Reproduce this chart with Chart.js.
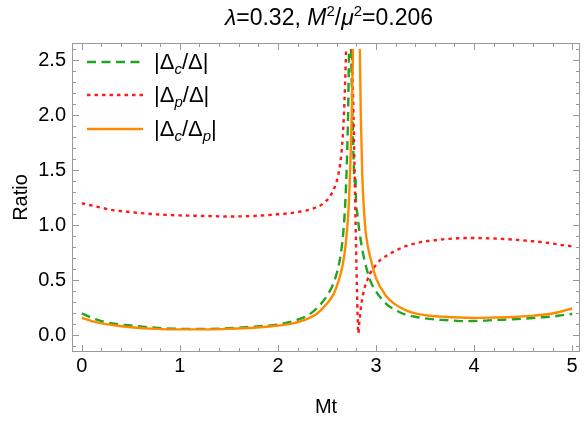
<!DOCTYPE html>
<html><head><meta charset="utf-8">
<script src="https://cdn.jsdelivr.net/npm/chart.js@4.4.0/dist/chart.umd.min.js"></script>
<style>
body{margin:0;background:#fff;}
#wrap{position:relative;width:586px;height:425px;font-family:"Liberation Sans",Arial,sans-serif;color:#000;}
#c{position:absolute;left:0;top:0;}
#title{position:absolute;top:4px;left:72px;width:514px;text-align:center;font-size:23px;line-height:26px;white-space:nowrap;}
#legend{position:absolute;left:86px;top:45px;font-size:22px;}
.row{display:flex;align-items:center;height:33.5px;white-space:nowrap;}
.row svg{margin-right:10px;}
sup{font-size:15px;position:relative;top:-9px;vertical-align:baseline;line-height:0;}
sub{font-size:15px;position:relative;top:5px;vertical-align:baseline;line-height:0;}
</style></head>
<body>
<div id="wrap">
<canvas id="c" width="586" height="425"></canvas>
<div id="title"><i>λ</i>=0.32, <i>M</i><sup>2</sup>/<i>μ</i><sup>2</sup>=0.206</div>
<div id="legend"></div>
</div>
<script>
// ---- data ----
const xTicks = [0, 1, 2, 3, 4, 5];
const yTicks = [0, 0.5, 1, 1.5, 2, 2.5];
const legendLabels = ['|Δ<sub><i>c</i></sub>/Δ|', '|Δ<sub><i>p</i></sub>/Δ|', '|Δ<sub><i>c</i></sub>/Δ<sub><i>p</i></sub>|'];

// |Δc/Δ| (green dashed)
const greenX = [0, 0.1, 0.2, 0.35, 0.5, 0.75, 1.0, 1.25, 1.5, 1.75, 2.0, 2.15, 2.3, 2.4, 2.5, 2.56, 2.61, 2.65, 2.68, 2.7, 2.715, 2.725,
  2.735,
  2.745, 2.76, 2.775, 2.785, 2.79, 2.795, 2.81, 2.83, 2.86, 2.9, 2.95, 3.0, 3.1, 3.2, 3.3, 3.4, 3.5, 3.6, 3.7, 3.8, 3.9, 4.0, 4.1, 4.2, 4.3, 4.4, 4.5, 4.6, 4.7, 4.8, 4.9, 5.0];
const greenY = [0.20, 0.16, 0.13, 0.105, 0.09, 0.07, 0.06, 0.06, 0.065, 0.08, 0.10, 0.13, 0.18, 0.25, 0.36, 0.46, 0.60, 0.80, 1.10, 1.50, 2.00, 2.60,
  null,
  2.60, 2.00, 1.50, 1.38, 1.45, 1.25, 1.10, 0.95, 0.78, 0.62, 0.48, 0.40, 0.29, 0.23, 0.19, 0.17, 0.155, 0.145, 0.14, 0.135, 0.13, 0.132, 0.135, 0.14, 0.143, 0.147, 0.152, 0.158, 0.165, 0.172, 0.185, 0.195];

// |Δp/Δ| (red dotted)
const redX = [0, 0.1, 0.2, 0.3, 0.5, 0.75, 1.0, 1.25, 1.5, 1.75, 2.0, 2.2, 2.35, 2.45, 2.52, 2.58, 2.62, 2.65, 2.67, 2.685, 2.695,
  2.725,
  2.755, 2.775, 2.79, 2.805, 2.82, 2.83, 2.85, 2.88, 2.91, 2.95, 3.0, 3.05, 3.1, 3.2, 3.3, 3.4, 3.5, 3.6, 3.7, 3.8, 3.9, 4.0, 4.2, 4.4, 4.6, 4.8, 4.9, 5.0];
const redY = [1.20, 1.18, 1.16, 1.14, 1.12, 1.10, 1.09, 1.085, 1.08, 1.085, 1.10, 1.12, 1.15, 1.19, 1.25, 1.35, 1.48, 1.68, 1.95, 2.30, 2.60,
  null,
  2.60, 1.80, 1.10, 0.45, 0.02, 0.12, 0.28, 0.42, 0.50, 0.58, 0.64, 0.69, 0.72, 0.77, 0.81, 0.835, 0.855, 0.865, 0.875, 0.88, 0.885, 0.885, 0.88, 0.87, 0.855, 0.835, 0.82, 0.81];

// |Δc/Δp| (orange solid)
const orangeX = [0, 0.1, 0.2, 0.35, 0.5, 0.75, 1.0, 1.25, 1.5, 1.75, 2.0, 2.15, 2.3, 2.4, 2.5, 2.57, 2.62, 2.66, 2.69, 2.72, 2.74, 2.755, 2.765,
  2.8,
  2.835, 2.845, 2.86, 2.88, 2.9, 2.95, 3.0, 3.1, 3.2, 3.3, 3.4, 3.5, 3.6, 3.7, 3.8, 4.0, 4.2, 4.4, 4.6, 4.8, 4.9, 5.0];
const orangeY = [0.16, 0.13, 0.11, 0.09, 0.075, 0.06, 0.055, 0.055, 0.06, 0.07, 0.09, 0.11, 0.15, 0.20, 0.29, 0.38, 0.50, 0.64, 0.82, 1.15, 1.60, 2.10, 2.60,
  null,
  2.60, 2.00, 1.45, 1.10, 0.90, 0.68, 0.52, 0.36, 0.28, 0.23, 0.20, 0.185, 0.175, 0.17, 0.165, 0.16, 0.163, 0.168, 0.18, 0.20, 0.22, 0.245];

// ---- chart ----
const pts = (xs, ys) => xs.map((x, i) => ({x: x, y: ys[i]}));
const styles = [
  {color: '#1fa51f', dash: [9, 5.5]},
  {color: '#ff1a1a', dash: [3.5, 4]},
  {color: '#ff8a00', dash: []}
];

const frame = {
  id: 'frame',
  beforeDatasetsDraw(chart) {
    const {ctx, chartArea: a, scales: {x, y}} = chart;
    ctx.save();
    ctx.strokeStyle = '#9a9a9a';
    ctx.lineWidth = 1;
    ctx.strokeRect(a.left + 0.5, a.top + 0.5, a.right - a.left - 1, a.bottom - a.top - 1);
    ctx.beginPath();
    for (let i = 0; i <= 25; i++) {
      const v = i * 0.2;
      const len = (i % 5 === 0) ? 7 : 4;
      const px = Math.round(x.getPixelForValue(v)) + 0.5;
      ctx.moveTo(px, a.bottom); ctx.lineTo(px, a.bottom - len);
      ctx.moveTo(px, a.top); ctx.lineTo(px, a.top + len);
    }
    for (let i = -1; i <= 26; i++) {
      const v = i * 0.1;
      if (v < y.min || v > y.max) continue;
      const len = ((i % 5 + 5) % 5 === 0) ? 7 : 4;
      const py = Math.round(y.getPixelForValue(v)) + 0.5;
      ctx.moveTo(a.left, py); ctx.lineTo(a.left + len, py);
      ctx.moveTo(a.right, py); ctx.lineTo(a.right - len, py);
    }
    ctx.stroke();
    ctx.restore();
  }
};

const chart = new Chart(document.getElementById('c'), {
  type: 'scatter',
  data: {
    datasets: [
      {label: 'g', data: pts(greenX, greenY), borderColor: styles[0].color, borderDash: styles[0].dash, order: 2},
      {label: 'r', data: pts(redX, redY), borderColor: styles[1].color, borderDash: styles[1].dash, order: 1},
      {label: 'o', data: pts(orangeX, orangeY), borderColor: styles[2].color, borderDash: styles[2].dash, order: 0}
    ].map(d => Object.assign(d, {showLine: true, pointRadius: 0, borderWidth: 2.4, spanGaps: false, cubicInterpolationMode: 'monotone', fill: false}))
  },
  options: {
    responsive: false,
    animation: false,
    events: [],
    layout: {padding: {top: 43, right: 6, left: 0, bottom: 0}},
    plugins: {legend: {display: false}, tooltip: {enabled: false}},
    scales: {
      x: {
        type: 'linear', min: -0.1, max: 5.08,
        afterBuildTicks: s => { s.ticks = xTicks.map(v => ({value: v})); },
        afterFit: s => { s.height = 73; },
        grid: {display: false, drawTicks: false}, border: {display: false},
        ticks: {color: '#000', font: {family: 'Liberation Sans', size: 20}, padding: 2, maxRotation: 0},
        title: {display: true, text: 'Mt', color: '#000', font: {family: 'Liberation Sans', size: 20}, padding: {top: 0, bottom: 6}}
      },
      y: {
        type: 'linear', min: -0.15, max: 2.655,
        afterBuildTicks: s => { s.ticks = yTicks.map(v => ({value: v})); },
        afterFit: s => { s.width = 72; },
        grid: {display: false, drawTicks: false}, border: {display: false},
        ticks: {color: '#000', font: {family: 'Liberation Sans', size: 20}, padding: 6, callback: v => v.toFixed(1)},
        title: {display: true, text: 'Ratio', color: '#000', font: {family: 'Liberation Sans', size: 20}, padding: {top: 9, bottom: 0}}
      }
    }
  },
  plugins: [frame]
});

// ---- legend ----
const lg = document.getElementById('legend');
legendLabels.forEach((lab, i) => {
  const st = styles[i];
  const row = document.createElement('div');
  row.className = 'row';
  row.innerHTML = '<svg width="58" height="6"><line x1="1" y1="3" x2="57" y2="3" stroke="' + st.color +
    '" stroke-width="2.6" stroke-dasharray="' + (st.dash.length ? st.dash.join(',') : 'none') + '"/></svg><span>' + lab + '</span>';
  lg.appendChild(row);
});
</script>
</body></html>
